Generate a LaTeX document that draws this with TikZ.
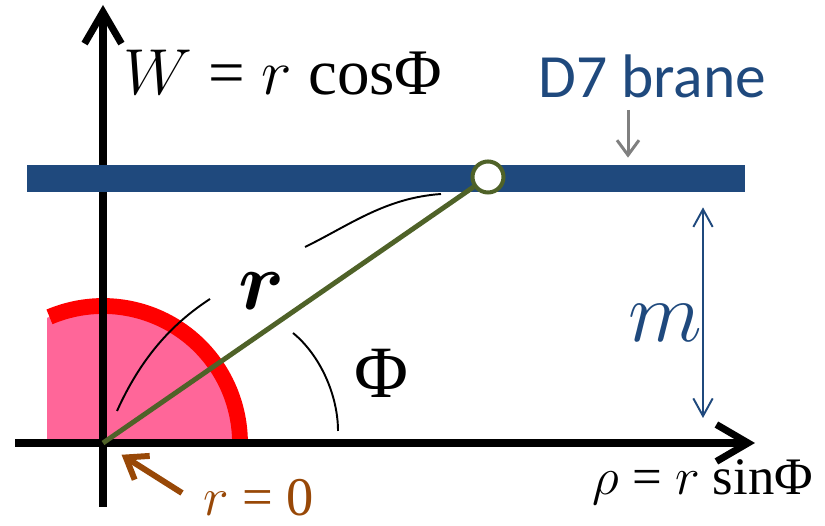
\RequirePackage{fix-cm}
\documentclass[tikz,border=0pt]{standalone}
\usepackage{amsmath,amssymb}
\usepackage{fontspec}
\setmainfont{Liberation Serif}
\newfontfamily\calibfont{Carlito}
\usetikzlibrary{arrows.meta,positioning}

\definecolor{branecol}{RGB}{31,73,125}
\definecolor{stringcol}{RGB}{79,98,40}
\definecolor{diskcol}{RGB}{255,102,153}
\definecolor{origincol}{RGB}{152,72,7}

\begin{document}
\begin{tikzpicture}[x=0.02cm,y=0.02cm,
        axisline/.style={line width=4pt,-{Straight Barb[length=18pt,width=21pt]}},
        branebar/.style={fill=branecol,draw=none,minimum width=14.36cm,
                         minimum height=0.54cm,inner sep=0pt},
        endpoint/.style={circle,draw=stringcol,line width=2.3pt,fill=white,
                         minimum size=0.62cm,inner sep=0pt},
        guide/.style={line width=1.1pt},
        bigmath/.style={inner sep=0pt,anchor=base}]
        \useasboundingbox (0,0) rectangle (825,526);
        \coordinate (O) at (103,83);
        \coordinate (ybot) at (103,19);
        \coordinate (ytop) at (103,521);
        \coordinate (xleft) at (15,83);
        \coordinate (xright) at (755,83);

        % pink region round the origin
        \begin{scope}
            \clip (47,83) rectangle (300,300);
            \fill[diskcol] (O) circle (137);
        \end{scope}
        \draw[red,line width=9pt] (240,83) arc[start angle=0,end angle=113,radius=137];

        \draw[axisline] (ybot) -- (ytop);
        \draw[axisline] (xleft) -- (xright);

        \node[branebar] (brane) at (386,347.5) {};
        \node[endpoint] (endpt) at (488,349) {};
        \draw[stringcol,line width=2.8pt] (O) -- (endpt);

        % guide curves
        \draw[guide] (117,115) .. controls (140,166) and (170,201) .. (210,227);
        \draw[guide] (305,279) .. controls (350,301) and (385,328) .. (441,332);
        \draw[guide] (293,193) .. controls (320,171) and (338,131) .. (338,95);

        \node[bigmath,anchor=base west] (wlabel) at (123,431)
            {\fontsize{37}{40}\selectfont$W$ = $r$ cosΦ};
        \node[bigmath,anchor=base west] (rholabel) at (592,31)
            {\fontsize{30}{34}\selectfont$\rho$ = $r$ sinΦ};
        \node[bigmath] (rlabel) at (262,216)
            {\fontsize{47}{50}\selectfont$\boldsymbol{r}$};
        \node[bigmath] (philabel) at (381,128) {\fontsize{42}{46}\selectfont Φ};
        \node[bigmath,text=branecol] (mlabel) at (665,184)
            {\fontsize{49}{52}\selectfont$m$};
        \node[bigmath,anchor=base west,text=branecol] (d7label) at (538,428)
            {\calibfont\fontsize{35}{38}\selectfont D7 brane};
        \node[bigmath,anchor=base west,text=origincol] (r0label) at (203,10)
            {\fontsize{31}{34}\selectfont$r$ = 0};

        \coordinate (pin) at (628,416);
        \coordinate (gap) at (703,0);
        \coordinate (r0tail) at (182,33);
        \draw[gray,line width=1.7pt,-{Straight Barb[length=8.5pt,width=12.5pt]},
              shorten >=0.14cm] (pin) -- (pin |- brane.north);
        \draw[branecol,line width=1.1pt,
              {Straight Barb[length=10pt,width=11pt]}-{Straight Barb[length=10pt,width=11pt]},
              shorten <=0.3cm,shorten >=0.5cm] (gap |- brane.south) -- (gap |- O);
        \draw[origincol,line width=3.4pt,-{Straight Barb[length=11pt,width=16pt]},
              shorten >=0.44cm] (r0tail) -- (O);
    \end{tikzpicture}
\end{document}
